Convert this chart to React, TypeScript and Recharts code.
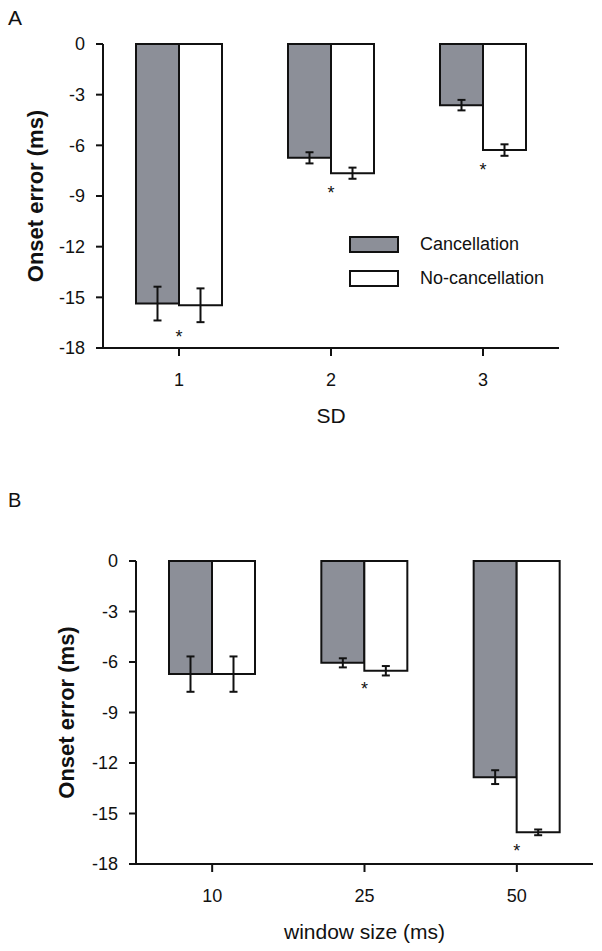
import React from "react";
import { BarChart, Bar, XAxis, YAxis, ErrorBar, Legend, ReferenceDot } from "recharts";

const yTicks = [0, -3, -6, -9, -12, -15, -18];

const sdCategories = ["1", "2", "3"];
const sdCancellation = [-15.37, -6.74, -3.62];
const sdCancellationErr = [1.0, 0.33, 0.31];
const sdNoCancellation = [-15.47, -7.65, -6.28];
const sdNoCancellationErr = [1.0, 0.33, 0.34];
const sdStars = [-17.1, -8.55, -7.2];

const windowCategories = ["10", "25", "50"];
const windowCancellation = [-6.72, -6.05, -12.84];
const windowCancellationErr = [1.05, 0.27, 0.41];
const windowNoCancellation = [-6.72, -6.52, -16.12];
const windowNoCancellationErr = [1.05, 0.28, 0.17];
const windowStars = [null, -7.37, -16.95];

const FONT = '"Liberation Sans", Arial, sans-serif';
const INK = "#111";
const GREY = "#8c8f98";

const buildRows = (cats: string[], c: number[], cErr: number[], n: number[], nErr: number[]) =>
  cats.map((cat, i) => ({ cat, c: c[i], cErr: cErr[i], n: n[i], nErr: nErr[i] }));

const YTitle = (props: any) => {
  const { viewBox, value, cx } = props;
  const cy = viewBox.y + viewBox.height / 2;
  return (
    <text
      x={cx}
      y={cy}
      transform={`rotate(-90, ${cx}, ${cy})`}
      textAnchor="middle"
      dominantBaseline="central"
      fontFamily={FONT}
      fontWeight="bold"
      fontSize={22}
      fill={INK}
    >
      {value}
    </text>
  );
};

const XTitle = (props: any) => {
  const { viewBox, value, dy } = props;
  return (
    <text
      x={viewBox.x + viewBox.width / 2}
      y={viewBox.y + dy}
      textAnchor="middle"
      dominantBaseline="central"
      fontFamily={FONT}
      fontSize={21}
      fill={INK}
    >
      {value}
    </text>
  );
};

const LegendBoxes = (props: any) => {
  const { payload } = props;
  return (
    <div style={{ fontFamily: FONT, fontSize: 18, color: INK }}>
      {payload.map((p: any) => (
        <div key={p.value} style={{ display: "flex", alignItems: "center", height: 34 }}>
          <div
            style={{
              width: 46,
              height: 13,
              background: p.payload.fill,
              border: `2px solid ${INK}`,
              marginRight: 21,
            }}
          />
          <span>{p.value}</span>
        </div>
      ))}
    </div>
  );
};

type PanelProps = {
  rows: any[];
  stars: (number | null)[];
  xTitle: string;
  height: number;
  margin: { top: number; right: number; bottom: number; left: number };
  yWidth: number;
  yTitleX: number;
  showLegend?: boolean;
};

function Panel({ rows, stars, xTitle, height, margin, yWidth, yTitleX, showLegend }: PanelProps) {
  return (
    <BarChart width={602} height={height} data={rows} margin={margin} barGap={0} barSize={43}>
      <XAxis
        dataKey="cat"
        tickLine={{ stroke: INK, strokeWidth: 2 }}
        axisLine={{ stroke: INK, strokeWidth: 2 }}
        tickSize={8}
        tickMargin={17}
        tick={{ fontFamily: FONT, fontSize: 18, fill: INK }}
        height={90}
        label={<XTitle value={xTitle} dy={67} />}
      />
      <YAxis
        type="number"
        domain={[-18, 0]}
        ticks={yTicks}
        interval={0}
        width={yWidth}
        tickLine={{ stroke: INK, strokeWidth: 2 }}
        axisLine={{ stroke: INK, strokeWidth: 2 }}
        tickSize={7}
        tickMargin={11}
        tick={{ fontFamily: FONT, fontSize: 18, fill: INK }}
        label={<YTitle value="Onset error (ms)" cx={yTitleX} />}
      />
      {showLegend && (
        <Legend
          layout="vertical"
          align="center"
          verticalAlign="middle"
          content={<LegendBoxes />}
          wrapperStyle={{ left: 349, top: 227, width: 240 }}
        />
      )}
      <Bar dataKey="c" name="Cancellation" fill={GREY} stroke={INK} strokeWidth={2} isAnimationActive={false}>
        <ErrorBar dataKey="cErr" width={4} stroke={INK} strokeWidth={2} direction="y" />
      </Bar>
      <Bar dataKey="n" name="No-cancellation" fill="#ffffff" stroke={INK} strokeWidth={2} isAnimationActive={false}>
        <ErrorBar dataKey="nErr" width={4} stroke={INK} strokeWidth={2} direction="y" />
      </Bar>
      {rows.map((r, i) =>
        stars[i] == null ? null : (
          <ReferenceDot
            key={r.cat}
            x={r.cat}
            y={stars[i] as number}
            r={0}
            fill="none"
            stroke="none"
            label={{ value: "*", position: "center", dy: 4, fontFamily: FONT, fontSize: 18, fill: INK }}
          />
        )
      )}
    </BarChart>
  );
}

export default function App() {
  const sdRows = buildRows(sdCategories, sdCancellation, sdCancellationErr, sdNoCancellation, sdNoCancellationErr);
  const windowRows = buildRows(
    windowCategories,
    windowCancellation,
    windowCancellationErr,
    windowNoCancellation,
    windowNoCancellationErr
  );

  return (
    <div style={{ position: "absolute", left: 0, top: 0, width: 602, height: 951, background: "#fff" }}>
      <div style={{ position: "absolute", left: 0, top: 0 }}>
        <Panel
          rows={sdRows}
          stars={sdStars}
          xTitle="SD"
          height={470}
          margin={{ top: 44, right: 43, bottom: 32, left: 0 }}
          yWidth={103}
          yTitleX={35}
          showLegend
        />
      </div>
      <div style={{ position: "absolute", left: 0, top: 470 }}>
        <Panel
          rows={windowRows}
          stars={windowStars}
          xTitle="window size (ms)"
          height={481}
          margin={{ top: 91, right: 9, bottom: -3, left: 0 }}
          yWidth={136}
          yTitleX={66}
        />
      </div>
      <div style={{ position: "absolute", left: 8, top: 6, fontFamily: FONT, fontSize: 21, color: INK }}>A</div>
      <div style={{ position: "absolute", left: 8, top: 489, fontFamily: FONT, fontSize: 20, color: INK }}>B</div>
    </div>
  );
}
